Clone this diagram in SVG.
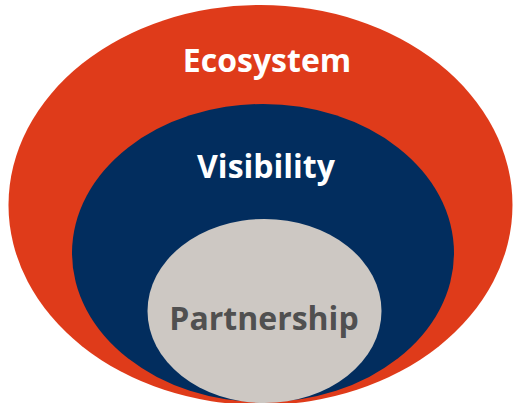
<svg xmlns="http://www.w3.org/2000/svg" width="513" height="403" viewBox="0 0 513 403">
<style>
.lbl{font-family:"Open Sans","DejaVu Sans",sans-serif;font-weight:bold;font-size:32px;text-anchor:middle}
.w{fill:#ffffff}
.g{fill:#505050}
</style>
<rect width="513" height="403" fill="#ffffff"/>
<g id="ecosystem">
<ellipse cx="260.5" cy="205" rx="252" ry="200" fill="#DF3B1A"/>
<text class="lbl w" x="267" y="72">Ecosystem</text>
</g>
<g id="visibility">
<ellipse cx="263" cy="253" rx="191" ry="149" fill="#022D5E"/>
<text class="lbl w" x="266" y="178">Visibility</text>
</g>
<g id="partnership">
<ellipse cx="264.5" cy="311" rx="117" ry="92" fill="#CDC8C3"/>
<text class="lbl g" x="264" y="330">Partnership</text>
</g>
<g id="connectors"/>
</svg>
